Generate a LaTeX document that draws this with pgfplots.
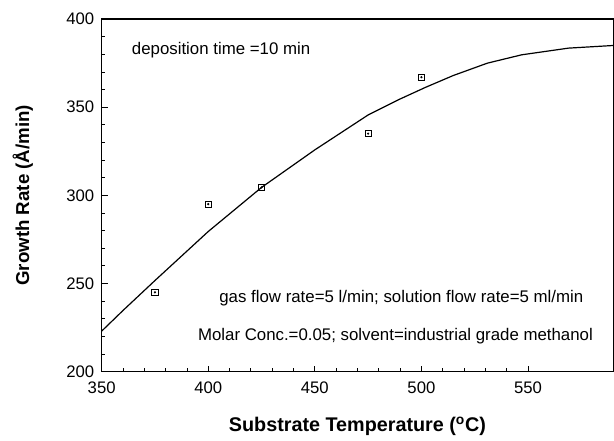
\documentclass[border=0pt]{standalone}
\usepackage{pgfplots}
\pgfplotsset{compat=1.18}
\usepackage{fontspec}
\setmainfont{Liberation Sans}
\begin{document}
\begin{tikzpicture}
\begin{axis}[
  scale only axis,
  width=383pt, height=264pt,
  xmin=350, xmax=590, ymin=200, ymax=400,
  xtick={350,400,450,500,550},
  ytick={200,250,300,350,400},
  minor x tick num=4, minor y tick num=4,
  xtick pos=left, ytick pos=left,
  tick align=inside,
  major tick length=4.5pt, minor tick length=2.5pt,
  axis line style={line width=1.1pt},
  every tick/.style={black, line width=0.6pt},
  tick label style={font=\fontsize{12.5}{14}\selectfont},
  xticklabel style={yshift=-4pt},
  yticklabel style={xshift=-2pt},
  /pgf/number format/assume math mode=true,
  xlabel={\textbf{Substrate Temperature (\textsuperscript{o}C)}},
  ylabel={\textbf{Growth Rate (Å/min)}},
  xlabel style={font=\fontsize{14.8}{17}\selectfont, at={(axis description cs:0.5,-0.155)}, anchor=center},
  ylabel style={font=\fontsize{14}{17}\selectfont, at={(axis description cs:-0.154,0.5)}, anchor=center, inner sep=9.5pt},
  clip=true,
]
\addplot[black, line width=0.9pt, no marks] coordinates {
(350,223) (360,234.7) (375,251.7) (400,279.5) (425,304.5) (450,325.8)
(475,345.6) (489,354.1) (502,361.3) (515,368) (531,375) (547,379.7) (569,383.5) (590,385)
};
\addplot[only marks, mark=square, mark size=2.3pt, mark options={black, line width=0.7pt}] coordinates {
(375,245) (400,295) (425,304.5) (475,335) (500,367)
};
\addplot[only marks, mark=*, mark size=0.6pt, mark options={black}] coordinates {
(375,245) (400,295) (425,304.5) (475,335) (500,367)
};
\node[anchor=west, font=\fontsize{12.6}{15}\selectfont] at (axis cs:362,382.5) {deposition time =10 min};
\node[anchor=west, font=\fontsize{12.6}{15}\selectfont] at (axis cs:403,241.5) {gas flow rate=5 l/min; solution flow rate=5 ml/min};
\node[anchor=west, font=\fontsize{12.6}{15}\selectfont] at (axis cs:393,220) {Molar Conc.=0.05; solvent=industrial grade methanol};
\end{axis}
\path (current axis.north west) ++(0,14.25pt) coordinate (topspace);
\end{tikzpicture}
\end{document}
